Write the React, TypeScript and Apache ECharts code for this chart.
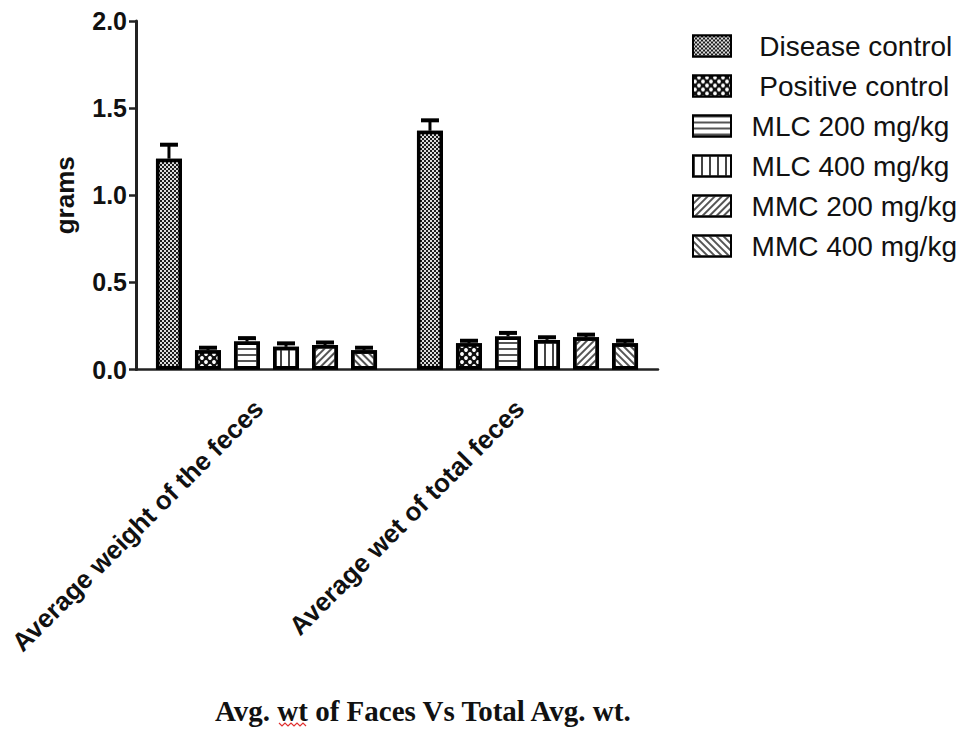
import React, { useEffect, useRef } from 'react';
import * as echarts from 'echarts';

// ---- data ----
const categories = ['Average weight of the feces', 'Average wet of total feces'];
const seriesNames = ['Disease control', 'Positive control', 'MLC 200 mg/kg', 'MLC 400 mg/kg', 'MMC 200 mg/kg', 'MMC 400 mg/kg'];
const diseaseControl = [1.21, 1.37];
const positiveControl = [0.11, 0.15];
const mlc200 = [0.16, 0.19];
const mlc400 = [0.13, 0.17];
const mmc200 = [0.14, 0.185];
const mmc400 = [0.11, 0.15];
const diseaseControlErr = [0.08, 0.06];
const positiveControlErr = [0.015, 0.015];
const mlc200Err = [0.02, 0.02];
const mlc400Err = [0.02, 0.015];
const mmc200Err = [0.015, 0.015];
const mmc400Err = [0.015, 0.015];
const yTicks = [0, 0.5, 1.0, 1.5, 2.0];
const chartTitle = 'Avg. wt of Faces Vs Total Avg. wt.';
const yName = 'grams';

const values = [diseaseControl, positiveControl, mlc200, mlc400, mmc200, mmc400];
const errors = [diseaseControlErr, positiveControlErr, mlc200Err, mlc400Err, mmc200Err, mmc400Err];

// ---- styles ----
const BAR_GAP = 0.5;
const CAT_GAP = 0.153;

const fills = ['#1c1c1c', '#111111', '#ffffff', '#ffffff', '#ffffff', '#ffffff'];
const decals: any[] = [
  { symbol: 'rect', symbolSize: 1, color: '#dcdcdc', dashArrayX: [[1.5, 1.5], [0, 1.5, 1.5, 0]], dashArrayY: [1.5, 0] },
  { symbol: 'circle', symbolSize: 0.95, color: '#ffffff', dashArrayX: [[4, 4], [0, 4, 4, 0]], dashArrayY: [4, 0] },
  { symbol: 'rect', symbolSize: 1, color: '#555555', dashArrayX: [10, 0], dashArrayY: [1.5, 3.5] },
  { symbol: 'rect', symbolSize: 1, color: '#444444', dashArrayX: [1.5, 5.5], dashArrayY: [10, 0] },
  { symbol: 'rect', symbolSize: 1, color: '#555555', dashArrayX: [1.5, 3], dashArrayY: [10, 0], rotation: Math.PI / 4 },
  { symbol: 'rect', symbolSize: 1, color: '#555555', dashArrayX: [1.5, 3], dashArrayY: [10, 0], rotation: -Math.PI / 4 },
];
const legendPrefix = ['   ', '   ', '  ', '  ', '  ', '  '];

export default function App() {
  const ref = useRef<HTMLDivElement>(null);
  useEffect(() => {
    if (!ref.current) return;
    const chart = echarts.init(ref.current, null, { renderer: 'svg' });

    const errData: any[] = [];
    values.forEach((arr, s) => {
      arr.forEach((v, c) => {
        errData.push([c, s, v, errors[s][c]]);
      });
    });

    const barSeries = seriesNames.map((name, i) => ({
      name,
      type: 'bar',
      data: values[i],
      barGap: BAR_GAP * 100 + '%',
      barCategoryGap: CAT_GAP * 100 + '%',
      itemStyle: {
        color: fills[i],
        borderColor: '#000',
        borderWidth: 3.5,
        decal: decals[i],
      },
      z: 2,
    }));

    const n = seriesNames.length;
    const errorSeries = {
      type: 'custom',
      z: 5,
      encode: { x: 0, y: 2 },
      data: errData,
      renderItem: (params: any, api: any) => {
        const c = api.value(0);
        const s = api.value(1);
        const v = api.value(2);
        const e = api.value(3);
        const band = api.size([1, 0])[0];
        const bw = (band - band * CAT_GAP) / (n + (n - 1) * BAR_GAP);
        const total = n * bw + (n - 1) * bw * BAR_GAP;
        const cx = api.coord([c, 0])[0] - total / 2 + s * bw * (1 + BAR_GAP) + bw / 2;
        const yB = api.coord([c, v])[1];
        const yT = api.coord([c, v + e])[1];
        return {
          type: 'group',
          children: [
            { type: 'line', shape: { x1: cx, y1: yB, x2: cx, y2: yT }, style: { stroke: '#000', lineWidth: 3 } },
            { type: 'line', shape: { x1: cx - 9, y1: yT, x2: cx + 9, y2: yT }, style: { stroke: '#000', lineWidth: 4 } },
          ],
        };
      },
    };

    const option: any = {
      animation: false,
      backgroundColor: '#fff',
      title: {
        text: chartTitle,
        left: 215,
        top: 696,
        padding: 0,
        textStyle: { fontFamily: '"Liberation Serif", "Times New Roman", serif', fontWeight: 'bold', fontSize: 29, color: '#111' },
      },
      legend: {
        data: seriesNames,
        orient: 'vertical',
        left: 692,
        top: 32,
        padding: 0,
        itemGap: 12,
        itemWidth: 38,
        itemHeight: 21,
        icon: 'rect',
        formatter: (name: string) => legendPrefix[seriesNames.indexOf(name)] + name,
        textStyle: { fontFamily: '"Liberation Sans", Arial, sans-serif', fontSize: 28, lineHeight: 28, color: '#111' },
      },
      grid: { left: 136, top: 21, width: 522, height: 348.5, containLabel: false },
      xAxis: {
        type: 'category',
        data: categories,
        axisLine: { lineStyle: { color: '#222', width: 2.5 } },
        axisTick: { alignWithLabel: true, length: 7, lineStyle: { color: '#222', width: 2 } },
        axisLabel: {
          rotate: 45,
          interval: 0,
          margin: 27,
          padding: [0, 11, 0, 0],
          fontFamily: '"Liberation Sans", Arial, sans-serif',
          fontWeight: 'bold',
          fontSize: 26,
          color: '#111',
        },
      },
      yAxis: {
        type: 'value',
        min: yTicks[0],
        max: yTicks[yTicks.length - 1],
        interval: 0.5,
        name: yName,
        nameLocation: 'middle',
        nameRotate: 90,
        nameGap: 58,
        nameTextStyle: { fontFamily: '"Liberation Sans", Arial, sans-serif', fontWeight: 'bold', fontSize: 26, color: '#111' },
        axisLine: { show: true, lineStyle: { color: '#222', width: 3 } },
        axisTick: { show: true, length: 7, lineStyle: { color: '#222', width: 2.5 } },
        splitLine: { show: false },
        axisLabel: {
          formatter: (v: number) => v.toFixed(1),
          margin: 9,
          fontFamily: '"Liberation Sans", Arial, sans-serif',
          fontWeight: 'bold',
          fontSize: 25,
          color: '#111',
        },
      },
      graphic: [
        {
          type: 'polyline',
          shape: { points: [[279, 723], [282, 726], [285, 723], [288, 726], [291, 723], [294, 726], [297, 723], [300, 726], [303, 723], [306, 726]] },
          style: { stroke: '#e03030', lineWidth: 1.2, fill: 'none' },
          z: 10,
        },
      ],
      series: [...barSeries, errorSeries],
    };
    chart.setOption(option);
    return () => chart.dispose();
  }, []);
  return <div ref={ref} style={{ position: 'fixed', left: 0, top: 0, width: 963, height: 729, background: '#fff' }} />;
}
